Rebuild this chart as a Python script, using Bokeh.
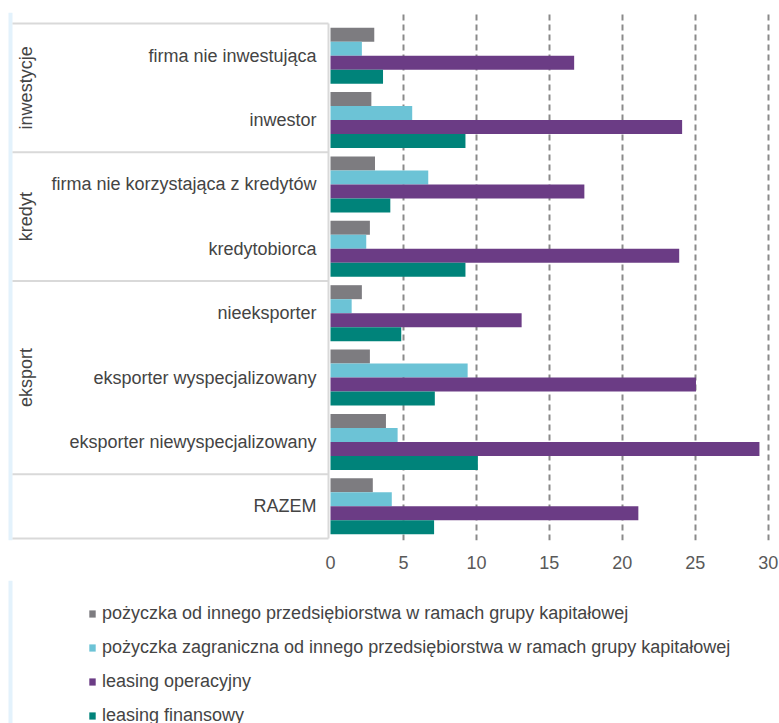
from math import pi

from bokeh.core.properties import value
from bokeh.embed import file_html
from bokeh.layouts import column
from bokeh.models import (ColumnDataSource, FixedTicker, Legend, LegendItem,
                          Range1d)
from bokeh.plotting import figure
from bokeh.resources import INLINE

# --- data -----------------------------------------------------------------
categories = [
    "firma nie inwestująca",
    "inwestor",
    "firma nie korzystająca z kredytów",
    "kredytobiorca",
    "nieeksporter",
    "eksporter wyspecjalizowany",
    "eksporter niewyspecjalizowany",
    "RAZEM",
]
group_names = ["inwestycje", "kredyt", "eksport", ""]
group_sizes = [2, 2, 3, 1]

series_names = [
    "pożyczka od innego przedsiębiorstwa w ramach grupy kapitałowej",
    "pożyczka zagraniczna od innego przedsiębiorstwa w ramach grupy kapitałowej",
    "leasing operacyjny",
    "leasing finansowy",
]
pozyczka_grupa = [3.0, 2.8, 3.05, 2.7, 2.15, 2.7, 3.8, 2.9]
pozyczka_zagraniczna = [2.15, 5.6, 6.7, 2.45, 1.45, 9.4, 4.6, 4.2]
leasing_operacyjny = [16.7, 24.1, 17.4, 23.9, 13.1, 25.05, 29.4, 21.1]
leasing_finansowy = [3.6, 9.25, 4.1, 9.25, 4.85, 7.15, 10.1, 7.1]
series_values = [pozyczka_grupa, pozyczka_zagraniczna, leasing_operacyjny, leasing_finansowy]
series_colors = ["#7d7c80", "#6cc3d6", "#6b3c85", "#00837a"]

x_ticks = [0, 5, 10, 15, 20, 25, 30]

# --- layout constants ------------------------------------------------------
W = 779
H_CHART, H_LEGEND = 580, 143
FRAME_TOP, FRAME_BOTTOM = 12, 540      # pixel rows of the chart frame
CAT_TOP, CAT_BOTTOM = 23, 538          # pixel rows spanned by the categories
ZERO_PX = 330                          # pixel column of value 0
PX_PER_UNIT = 14.59
FONT = "Liberation Sans"
TEXT_COLOR = "#444444"
RULE_COLOR = "#e3f2fc"
TABLE_COLOR = "#d9d9d9"

def px_to_x(px):
    return (px - ZERO_PX) / PX_PER_UNIT

n = len(categories)
px_per_cat = (CAT_BOTTOM - CAT_TOP) / n
y_start = -(FRAME_BOTTOM - CAT_BOTTOM) / px_per_cat
y_end = n + (CAT_TOP - FRAME_TOP) / px_per_cat
centers = [n - 0.5 - k for k in range(n)]
bar_h = 0.87 / 4

# --- chart ------------------------------------------------------------------
p = figure(
    width=W, height=H_CHART,
    x_range=Range1d(px_to_x(0), px_to_x(W)),
    y_range=Range1d(y_start, y_end),
    y_axis_type=None,
    output_backend="svg", toolbar_location=None,
    min_border_left=0, min_border_right=0,
    min_border_top=FRAME_TOP, min_border_bottom=H_CHART - FRAME_BOTTOM,
)
p.outline_line_color = None

# vertical dashed gridlines
p.ygrid.visible = False
p.xgrid.ticker = FixedTicker(ticks=x_ticks[1:])
p.xgrid.grid_line_color = "#8a8a8a"
p.xgrid.grid_line_width = 2
p.xgrid.grid_line_dash = "6 4"

# value axis: tick labels only
xa = p.xaxis[0]
xa.ticker = FixedTicker(ticks=x_ticks)
xa.axis_line_color = None
xa.major_tick_line_color = None
xa.minor_tick_line_color = None
xa.major_tick_in = 0
xa.major_tick_out = 0
xa.major_label_standoff = 15
xa.major_label_text_font = FONT
xa.major_label_text_font_size = "18px"
xa.major_label_text_color = "#595959"

# light blue rule along the left edge
p.segment(x0=[px_to_x(10)], x1=[px_to_x(10)], y0=[y_start], y1=[y_end],
          line_color=RULE_COLOR, line_width=4)

# category table on the left
x_left, x_right = px_to_x(12), px_to_x(328)
bounds = [n]
for s in group_sizes:
    bounds.append(bounds[-1] - s)
p.segment(x0=[x_left] * len(bounds), x1=[x_right] * len(bounds), y0=bounds, y1=bounds,
          line_color=TABLE_COLOR, line_width=2)
p.segment(x0=[x_right], x1=[x_right], y0=[0], y1=[n], line_color=TABLE_COLOR, line_width=2)

p.text(x=[px_to_x(316)] * n, y=centers, text=categories,
       text_align="right", text_baseline="middle",
       text_font=value(FONT), text_font_size="18px", text_color=TEXT_COLOR)

g_y, g_t = [], []
for name, top, bottom in zip(group_names, bounds[:-1], bounds[1:]):
    if name:
        g_y.append((top + bottom) / 2)
        g_t.append(name)
p.text(x=[px_to_x(25)] * len(g_t), y=g_y, text=g_t, angle=pi / 2,
       text_align="center", text_baseline="middle",
       text_font=value(FONT), text_font_size="18px", text_color=TEXT_COLOR)

# bars: four series per category, top to bottom
for i, (vals, color) in enumerate(zip(series_values, series_colors)):
    src = ColumnDataSource(dict(
        y=[c - (i - 1.5) * bar_h for c in centers],
        right=vals,
    ))
    p.hbar(y="y", left=0, right="right", height=bar_h, source=src,
           fill_color=color, line_color=None)

# --- legend panel -----------------------------------------------------------
q = figure(
    width=W, height=H_LEGEND,
    x_range=Range1d(0, W), y_range=Range1d(0, H_LEGEND),
    x_axis_type=None, y_axis_type=None,
    output_backend="svg", toolbar_location=None,
    min_border=0,
)
q.outline_line_color = None
q.grid.visible = False
q.segment(x0=[10], x1=[10], y0=[0], y1=[H_LEGEND], line_color=RULE_COLOR, line_width=4)

# swatch renderers for the legend (a zero-width bar placed outside the view)
swatches = []
for color in series_colors:
    swatches.append(q.hbar(y=[-50], left=[0], right=[0], height=1,
                           fill_color=color, line_color=None))

legend = Legend(
    items=[LegendItem(label=nm, renderers=[r]) for nm, r in zip(series_names, swatches)],
    location=(88, -3),
    glyph_width=8, glyph_height=9, label_height=22, spacing=12,
    label_standoff=6, padding=0, margin=0,
    border_line_color=None, background_fill_alpha=0,
    label_text_font=FONT, label_text_font_size="18px", label_text_color=TEXT_COLOR,
)
q.add_layout(legend)

layout = column(p, q, spacing=0)
open("out.html", "w").write(file_html(layout, INLINE))
